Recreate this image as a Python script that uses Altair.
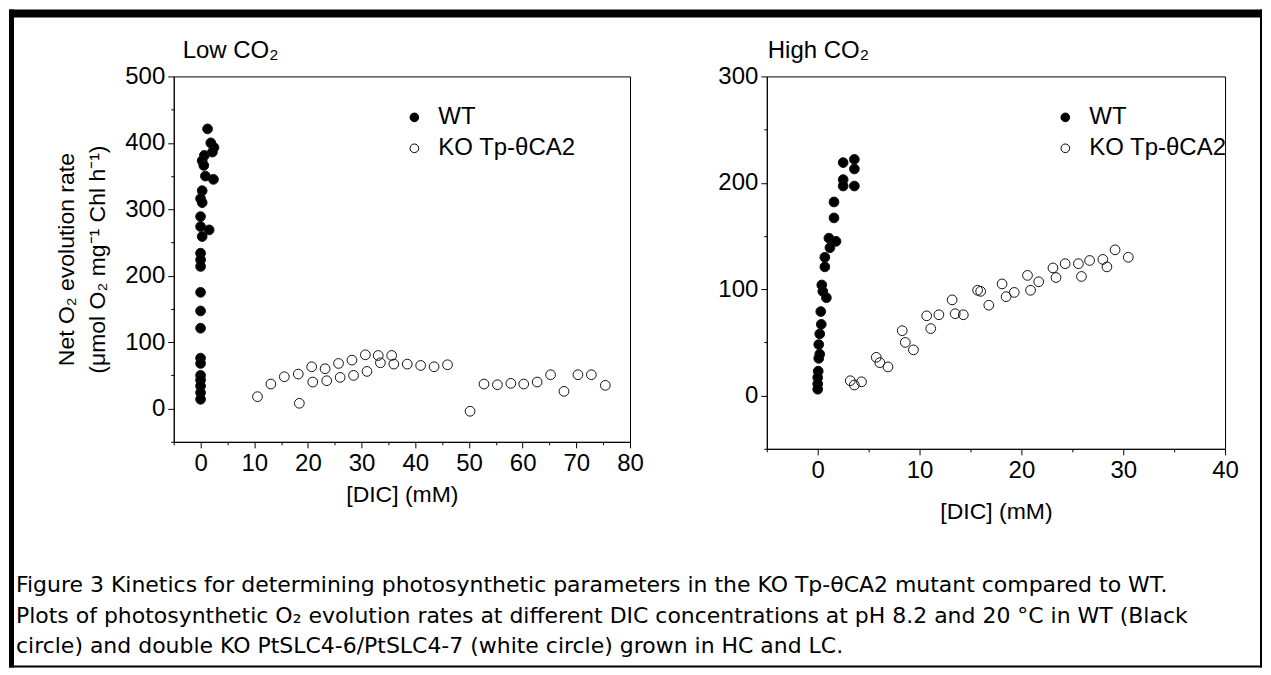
import altair as alt
import pandas as pd

SERIES = ["WT", "KO Tp-θCA2"]

# ---- Low CO2 panel ----
low_wt_dic = [1.3, 1.9, 2.5, 2.2, 0.7, 0.3, 0.6, 0.9, 2.4, 0.3, 0.0, 0.3, 0.0, 0.0, 1.6,
              0.3, 0.0, 0.0, 0.0, 0.0, 0.0, 0.0, 0.0, 0.0, 0.0, 0.0, 0.0, 0.0, 0.0]
low_wt_rate = [421, 400, 393, 386, 381, 373, 366, 350, 345, 328, 316, 310, 289, 274, 269,
               259, 234, 224, 214, 175, 147, 121, 76, 68, 50, 43, 34, 24, 14]
low_ko_dic = [10.6, 13.1, 15.6, 18.2, 18.4, 20.7, 20.9, 23.2, 23.5, 25.7, 26.0, 28.2, 28.5,
              30.7, 31.0, 33.1, 33.5, 35.6, 36.0, 38.5, 41.0, 43.5, 46.0, 50.2, 52.8, 55.3,
              57.8, 60.2, 62.7, 65.2, 67.7, 70.3, 72.8, 75.4]
low_ko_rate = [18, 37, 48, 52, 8, 63, 40, 60, 42, 68, 47, 73, 50,
               81, 56, 80, 69, 80, 67, 67, 65, 63, 66, -4, 37, 36,
               38, 37, 40, 51, 26, 51, 51, 35]

# ---- High CO2 panel ----
high_wt_dic = [2.5, 3.6, 3.6, 2.5, 2.5, 3.6, 1.6, 1.6, 1.1, 1.8, 1.2, 0.7, 0.7, 0.4, 0.5,
               0.85, 0.3, 0.35, 0.2, 0.1, 0.2, 0.1, 0.05, 0.0, 0.0, 0.0]
high_wt_rate = [219, 222, 213, 203, 197, 197, 182, 167, 148, 145, 139, 130, 121, 104, 98,
                92, 79, 67, 58, 48, 39, 35, 23, 17, 11, 6]
high_ko_dic = [3.2, 3.6, 4.3, 5.75, 6.1, 6.9, 8.3, 8.6, 9.4, 10.7, 11.1, 11.9, 13.2, 13.5,
               14.3, 15.7, 16.0, 16.8, 18.1, 18.5, 19.3, 20.6, 20.9, 21.7, 23.1, 23.4,
               24.3, 25.6, 25.9, 26.7, 28.0, 28.4, 29.2, 30.5]
high_ko_rate = [14, 10, 13, 36, 31, 27, 61, 50, 43, 75, 63, 76, 90, 77,
                76, 99, 98, 85, 105, 93, 97, 113, 99, 107, 120, 111,
                124, 124, 112, 127, 128, 121, 137, 130]

PANEL_TITLES = ["Low CO₂", "High CO₂"]
Y_TITLE = ["Net O₂ evolution rate", "(μmol O₂ mg⁻¹ Chl h⁻¹)"]
X_TITLE = "[DIC] (mM)"
CAPTION = [
    "Figure 3  Kinetics for determining photosynthetic parameters in the KO Tp-θCA2 mutant compared to WT.",
    "Plots of photosynthetic O₂ evolution rates at different DIC concentrations at pH 8.2 and 20 °C in WT (Black",
    "circle) and double KO PtSLC4-6/PtSLC4-7 (white circle) grown in HC and LC.",
]

FONT = "Liberation Sans"
FS_LABEL = 24
FS_TITLE = 23
FS_LEGEND = 24
FS_PANEL = 24

one = pd.DataFrame({"k": [0]})


def frame(wt_x, wt_y, ko_x, ko_y):
    return pd.DataFrame({
        "dic": list(wt_x) + list(ko_x),
        "rate": list(wt_y) + list(ko_y),
        "series": [SERIES[0]] * len(wt_x) + [SERIES[1]] * len(ko_x),
    })


def panel(df, xdom, ydom, xmaj, ymaj, width, height, title, title_dx,
          leg_x, leg_y, y_title, x_title_pad):
    xvals = list(range(xdom[0], xdom[1] + 1, xmaj // 2))
    yvals = list(range(ydom[0], ydom[1] + 1, ymaj // 2))
    x_axis = alt.Axis(
        values=xvals,
        labelExpr=f"datum.value % {xmaj} === 0 ? datum.label : ''",
        tickSize={"condition": {"test": f"datum.value % {xmaj} !== 0", "value": 3}, "value": 6},
        labelFlush=False, labelOverlap=False, grid=False, labelPadding=4,
        titlePadding=x_title_pad,
    )
    y_axis = alt.Axis(
        values=yvals,
        labelExpr=f"datum.value % {ymaj} === 0 ? datum.label : ''",
        tickSize={"condition": {"test": f"datum.value % {ymaj} !== 0", "value": 3}, "value": 6},
        labelFlush=False, labelOverlap=False, grid=False,
        titlePadding=15, titleLineHeight=31,
    )
    pts = alt.Chart(df).mark_point(
        shape="circle", filled=True, size=95, stroke="#111111", strokeWidth=1, opacity=1
    ).encode(
        x=alt.X("dic:Q", scale=alt.Scale(domain=xdom, nice=False, zero=False),
                axis=x_axis, title=X_TITLE),
        y=alt.Y("rate:Q", scale=alt.Scale(domain=ydom, nice=False, zero=False),
                axis=y_axis, title=y_title),
        fill=alt.Fill("series:N", scale=alt.Scale(domain=SERIES, range=["black", "transparent"]),
                      legend=alt.Legend(orient="none", legendX=leg_x, legendY=leg_y, title=None,
                                        labelFont=FONT, labelFontSize=FS_LEGEND, labelColor="black",
                                        symbolType="circle", symbolSize=75,
                                        symbolStrokeColor="black", symbolStrokeWidth=1,
                                        rowPadding=7, labelOffset=12, padding=0)),
    ).properties(width=width, height=height)
    ttl = alt.Chart(one).mark_text(
        align="left", baseline="alphabetic", font=FONT, fontSize=FS_PANEL, color="black"
    ).encode(x=alt.value(title_dx), y=alt.value(-18), text=alt.value(title))
    return pts, ttl


def bar(x1, x2, y1, y2):
    return alt.Chart(one).mark_rect(color="black").encode(
        x=alt.value(x1), x2=alt.value(x2), y=alt.value(y1), y2=alt.value(y2))


caption = alt.Chart(one).mark_text(
    align="left", baseline="alphabetic", font="DejaVu Sans", fontSize=22,
    lineHeight=31, color="black"
).encode(x=alt.value(-158), y=alt.value(516), text=alt.value(CAPTION))

l_pts, l_ttl = panel(frame(low_wt_dic, low_wt_rate, low_ko_dic, low_ko_rate),
                     [-5, 80], [-50, 500], 10, 100, 457, 366, PANEL_TITLES[0], 9,
                     229, 29, Y_TITLE, 8)
r_pts, r_ttl = panel(frame(high_wt_dic, high_wt_rate, high_ko_dic, high_ko_rate),
                     [-5, 40], [-50, 300], 10, 100, 459, 373, PANEL_TITLES[1], 1,
                     287, 29, "", 18)

left = alt.layer(
    l_pts, l_ttl,
    bar(-165, 1090, -67, -59),   # top border
    bar(-165, -160, -67, 592),   # left border
    bar(1088, 1090, -67, 592),   # right border
    bar(-165, 1090, 590, 592),   # bottom border
    caption,
)
right = alt.layer(r_pts, r_ttl)

chart = alt.hconcat(left, right, spacing=137, bounds="flush").resolve_scale(
    x="independent", y="independent", fill="independent"
).resolve_legend(fill="independent").properties(
    padding=0, background="white"
).configure_view(stroke="black", strokeWidth=1).configure_axis(
    domainColor="black", tickColor="black", labelColor="black", titleColor="black",
    labelFont=FONT, labelFontSize=FS_LABEL, titleFont=FONT, titleFontSize=FS_TITLE,
    titleFontWeight="normal", labelPadding=3, domainWidth=1, tickWidth=1
)

chart.save("out.html", embed_options={"renderer": "svg", "actions": False})
